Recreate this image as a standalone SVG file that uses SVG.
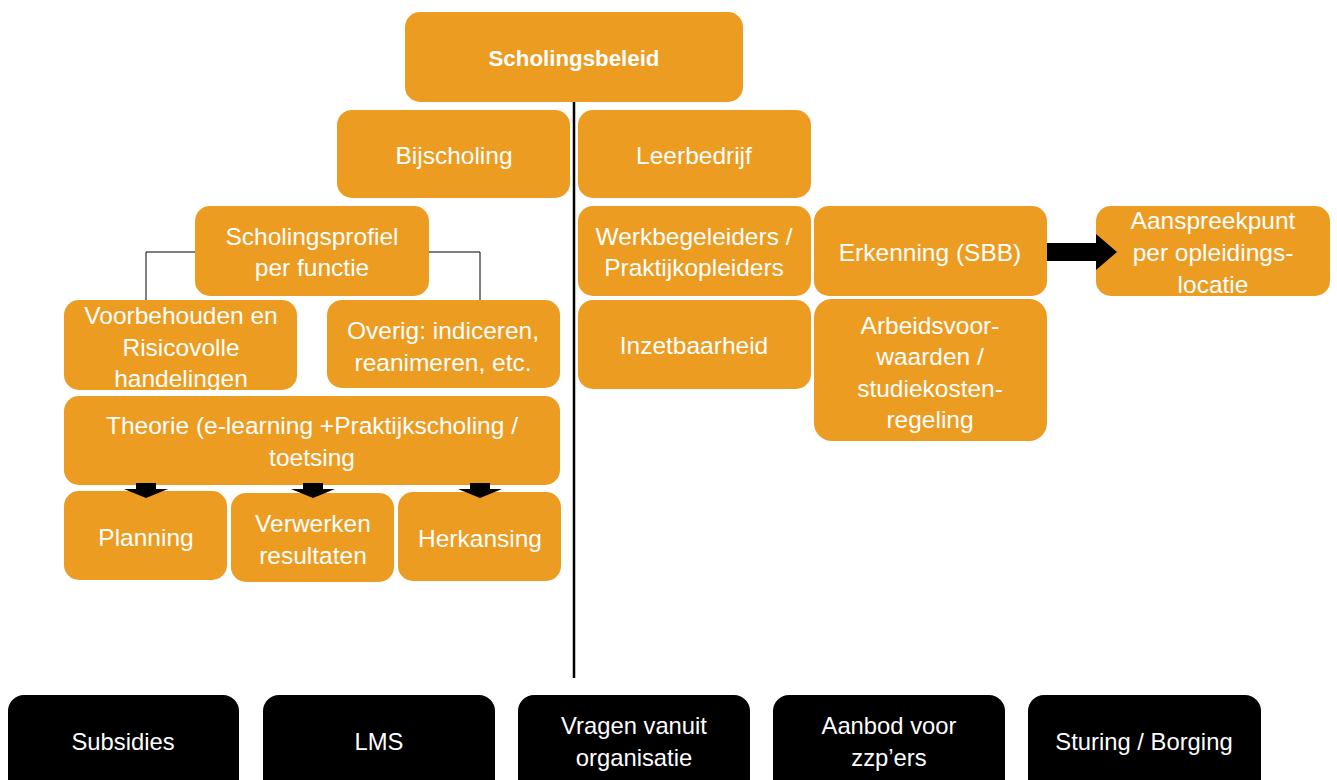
<svg xmlns="http://www.w3.org/2000/svg" width="1337" height="780" viewBox="0 0 1337 780">
<style>
.o{fill:#ED9C22;}
.b{fill:#000;}
text{font-family:"Liberation Sans",Arial,sans-serif;font-size:24.5px;fill:#fff;text-anchor:middle;}
.bold{font-weight:bold;font-size:22.3px;}
.k{font-size:23.8px;}
.ln{stroke:#000;fill:none;}
</style>
<rect width="1337" height="780" fill="#fff"/>
<g id="connectors">
<line class="ln" x1="574" y1="102" x2="574" y2="678" stroke-width="2.5"/>
<polyline class="ln" points="196,252 146,252 146,301" stroke-width="1"/>
<polyline class="ln" points="428,252 480,252 480,301" stroke-width="1"/>
</g>
<g id="n-scholingsbeleid"><rect class="o" x="405" y="12" width="338" height="90" rx="15"/><text class="bold" x="574" y="66">Scholingsbeleid</text></g>
<g id="n-bijscholing"><rect class="o" x="337" y="110" width="233" height="88" rx="15"/><text x="454" y="164">Bijscholing</text></g>
<g id="n-leerbedrijf"><rect class="o" x="578" y="110" width="233" height="88" rx="15"/><text x="694" y="164">Leerbedrijf</text></g>
<g id="n-profiel"><rect class="o" x="195" y="206" width="234" height="90" rx="15"/><text x="312" y="245">Scholingsprofiel</text><text x="312" y="276">per functie</text></g>
<g id="n-voorbehouden"><rect class="o" x="64" y="300" width="233" height="90" rx="15"/><text x="181" y="324">Voorbehouden en</text><text x="181" y="356">Risicovolle</text><text x="181" y="387">handelingen</text></g>
<g id="n-overig"><rect class="o" x="327" y="300" width="233" height="88" rx="15"/><text x="443" y="339">Overig: indiceren,</text><text x="443" y="371">reanimeren, etc.</text></g>
<g id="n-theorie"><rect class="o" x="64" y="396" width="496" height="89" rx="15"/><text x="312" y="434">Theorie (e-learning +Praktijkscholing /</text><text x="312" y="466">toetsing</text></g>
<g id="n-planning"><rect class="o" x="64" y="491" width="163" height="89" rx="15"/><text x="146" y="546">Planning</text></g>
<g id="n-verwerken"><rect class="o" x="231" y="493" width="163" height="89" rx="15"/><text x="313" y="532">Verwerken</text><text x="313" y="564">resultaten</text></g>
<g id="n-herkansing"><rect class="o" x="398" y="492" width="163" height="89" rx="15"/><text x="480" y="547">Herkansing</text></g>
<g id="arrows-down">
<polygon class="b" points="136,483 156,483 156,489 168,489 146,498 124,489 136,489"/>
<polygon class="b" points="303,483 323,483 323,489 335,489 313,498 291,489 303,489"/>
<polygon class="b" points="470,483 490,483 490,489 502,489 480,498 458,489 470,489"/>
</g>
<g id="n-werkbegeleiders"><rect class="o" x="578" y="206" width="233" height="90" rx="15"/><text x="694" y="245">Werkbegeleiders /</text><text x="694" y="276">Praktijkopleiders</text></g>
<g id="n-inzetbaarheid"><rect class="o" x="578" y="300" width="233" height="89" rx="15"/><text x="694" y="354">Inzetbaarheid</text></g>
<g id="n-erkenning"><rect class="o" x="814" y="206" width="233" height="90" rx="15"/><text x="930" y="261">Erkenning (SBB)</text></g>
<g id="n-arbeid"><rect class="o" x="814" y="299" width="233" height="142" rx="18"/><text x="930" y="334">Arbeidsvoor-</text><text x="930" y="365">waarden /</text><text x="930" y="397">studiekosten-</text><text x="930" y="428">regeling</text></g>
<g id="n-aanspreekpunt"><rect class="o" x="1096" y="206" width="234" height="90" rx="15"/><text x="1213" y="229">Aanspreekpunt</text><text x="1213" y="261">per opleidings-</text><text x="1213" y="293">locatie</text></g>
<g id="arrow-right"><polygon class="b" points="1047,243 1096,243 1096,234 1117,252 1096,270 1096,261 1047,261"/></g>
<g id="n-subsidies"><rect class="b" x="8" y="695" width="231" height="110" rx="16"/><text class="k" x="123" y="750">Subsidies</text></g>
<g id="n-lms"><rect class="b" x="263" y="695" width="232" height="110" rx="16"/><text class="k" x="379" y="750">LMS</text></g>
<g id="n-vragen"><rect class="b" x="518" y="695" width="232" height="110" rx="16"/><text class="k" x="634" y="734">Vragen vanuit</text><text class="k" x="634" y="766">organisatie</text></g>
<g id="n-aanbod"><rect class="b" x="773" y="695" width="232" height="110" rx="16"/><text class="k" x="889" y="734">Aanbod voor</text><text class="k" x="889" y="766">zzp’ers</text></g>
<g id="n-sturing"><rect class="b" x="1028" y="695" width="233" height="110" rx="16"/><text class="k" x="1144" y="750">Sturing / Borging</text></g>
</svg>
